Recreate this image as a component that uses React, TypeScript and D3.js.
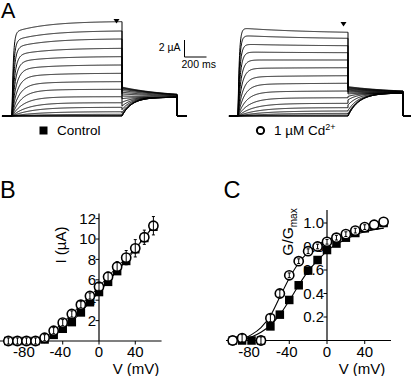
import React from 'react';
import * as d3 from 'd3';

const FONT = "'Liberation Sans', Arial, Helvetica, sans-serif";

// ---------- Panel A: current traces (one per voltage step, +60 ... -100 mV) ----------
const A_STEP_V = [60, 50, 40, 30, 20, 10, 0, -10, -20, -30, -40, -50, -60, -70, -80, -90, -100];
// current at end of the 1 s step (µA)
const A_CTRL_END = [11.1, 10.0, 9.06, 7.96, 6.98, 6.0, 5.02, 4.04, 3.14, 2.27, 1.56, 1.02, 0.5, 0.2, 0.05, 0, 0];
const A_CD_END = [9.85, 9.14, 8.27, 7.45, 6.59, 5.68, 4.74, 3.85, 2.94, 2.15, 1.49, 0.98, 0.59, 0.31, 0.12, 0, 0];
// tail current right after the step (µA)
const A_CTRL_TAIL0 = [3.4, 3.33, 3.26, 3.16, 3.0, 2.8, 2.6, 2.35, 2.04, 1.6, 1.16, 0.75, 0.4, 0.17, 0.03, 0, 0];
const A_CD_TAIL0 = [3.45, 3.38, 3.3, 3.22, 3.13, 3.03, 2.92, 2.8, 2.6, 2.3, 1.9, 1.3, 0.65, 0.25, 0.08, 0, 0];
// activation time constants (ms)
const A_CTRL_TAU = [12, 15, 19, 24, 30, 38, 48, 62, 80, 105, 140, 185, 240, 300, 350, 350, 350];
const A_CD_TAU = [12, 14, 17, 21, 27, 34, 44, 57, 75, 100, 135, 180, 230, 290, 350, 350, 350];
// slow component fraction (negative = slight inactivation)
const A_CTRL_SLOW = [0.12, 0.12, 0.12, 0.11, 0.1, 0.1, 0.1, 0.1, 0.08, 0.06, 0.05, 0.04, 0.03, 0, 0, 0, 0];
const A_CD_SLOW = [-0.07, -0.05, -0.03, -0.015, 0, 0.02, 0.04, 0.05, 0.06, 0.06, 0.06, 0.05, 0.04, 0.03, 0, 0, 0];

// ---------- Panel B: I-V ----------
const B_V = [-100, -90, -80, -70, -60, -50, -40, -30, -20, -10, 0, 10, 20, 30, 40, 50, 60];
const B_CTRL = [0, 0, 0, 0, 0.15, 0.6, 1.2, 1.85, 2.8, 3.8, 4.8, 5.8, 6.85, 7.85, 9.0, 10.1, 11.2];
const B_CD = [0, 0, 0, 0, 0.32, 1.01, 1.8, 2.65, 3.56, 4.41, 5.32, 6.3, 7.28, 8.17, 9.09, 10.17, 11.3];
const B_CD_ERR = [0.3, 0.3, 0.3, 0.3, 0.3, 0.3, 0.3, 0.3, 0.3, 0.3, 0.35, 0.45, 0.5, 0.7, 0.85, 0.7, 0.9];
const B_Y_TICKS = [2, 4, 6, 8, 10, 12];
const B_X_TICKS = [-80, -40, 0, 40];

// ---------- Panel C: G/Gmax ----------
const C_V = [-100, -90, -80, -70, -60, -50, -40, -30, -20, -10, 0, 10, 20, 30, 40, 50, 60];
const C_CTRL = [0, 0, 0, 0.0, 0.12, 0.22, 0.345, 0.47, 0.595, 0.685, 0.77, 0.825, 0.875, 0.915, 0.955, 0.98, 1.0];
const C_CD = [0.0, 0.02, NaN, 0.0, 0.19, 0.4, 0.555, 0.675, 0.76, 0.8, 0.84, 0.875, 0.905, 0.935, 0.965, 0.985, 1.01];
const C_CD_ERR = [0, 0.03, 0, 0.03, 0.03, 0.03, 0.02, 0.02, 0.02, 0.02, 0.02, 0.02, 0.02, 0.02, 0.02, 0, 0];
const C_FIT_CD_V = [-97, -90, -80, -70, -60, -50, -40, -30, -20, -10, 0, 10, 20, 30, 40, 50, 60];
const C_FIT_CD = [0, 0.012, 0.05, 0.11, 0.21, 0.37, 0.53, 0.66, 0.75, 0.81, 0.855, 0.885, 0.905, 0.92, 0.935, 0.945, 0.955];
const C_FIT_CTRL_V = [-90, -80, -70, -60, -50, -40, -30, -20, -10, 0, 10, 20, 30, 40, 50, 60];
const C_FIT_CTRL = [0, 0.03, 0.07, 0.13, 0.22, 0.34, 0.47, 0.59, 0.68, 0.76, 0.82, 0.86, 0.9, 0.925, 0.945, 0.955];
const C_Y_TICKS = [0.2, 0.4, 0.6, 0.8, 1.0];
const C_X_TICKS = [-80, -40, 0, 40];

type Pt = [number, number];

function tracePoints(end: number, tail0: number, tau: number, slow: number, tau2: number,
  tailInf: number, tailTauDecay: number, tailTauRise: number, tPre: number, tPost: number): Pt[] {
  const g = (t: number) => 1 - (1 - slow) * Math.exp(-t / tau) - slow * Math.exp(-t / tau2);
  const gEnd = g(1000);
  const pts: Pt[] = [[tPre, 0], [0, 0]];
  for (let t = 0; t <= 1000; t += 2) pts.push([t, end === 0 ? 0 : end * g(t) / gEnd]);
  const tt = tail0 > tailInf ? tailTauDecay : tailTauRise;
  for (let t = 0; t <= 500; t += 4) pts.push([1000 + t, tailInf + (tail0 - tailInf) * Math.exp(-t / tt)]);
  pts.push([1500, 0], [tPost, 0]);
  return pts;
}

function TracePanel({ x0, ends, tails, taus, slows, tau2, tailInf, tDec, tRise, tPre, tPost }:
  any) {
  const x = d3.scaleLinear().domain([0, 1000]).range([x0, x0 + 110]);
  const y = d3.scaleLinear().domain([0, 2]).range([116, 99]);
  const line = d3.line<Pt>().x(d => x(d[0])).y(d => y(d[1]));
  return (
    <g>
      {A_STEP_V.map((v, i) => (
        <path key={v} d={line(tracePoints(ends[i], tails[i], taus[i], slows[i], tau2, tailInf, tDec, tRise, tPre, tPost)) || ''}
          fill="none" stroke="#000" strokeWidth={1} />
      ))}
    </g>
  );
}

export default function App() {
  // Panel B scales
  const xB = d3.scaleLinear().domain([0, 60]).range([99, 153.4]);
  const yB = d3.scaleLinear().domain([0, 12]).range([341, 218.6]);
  // Panel C scales
  const xC = d3.scaleLinear().domain([0, 60]).range([327, 383.6]);
  const yC = d3.scaleLinear().domain([0, 1]).range([340.5, 223]);

  const ctrlLineB = d3.line<number>().x((_, i) => xB(B_V[i])).y(d => yB(d))(B_CTRL) || '';
  const cdLineB = d3.line<number>().x((_, i) => xB(B_V[i])).y(d => yB(d))(B_CD) || '';

  const fitCd = d3.line<number>().curve(d3.curveMonotoneX).x((_, i) => xC(C_FIT_CD_V[i])).y(d => yC(d))(C_FIT_CD) || '';
  const fitCtrl = d3.line<number>().curve(d3.curveMonotoneX).x((_, i) => xC(C_FIT_CTRL_V[i])).y(d => yC(d))(C_FIT_CTRL) || '';

  const sq = 8.5;
  const r = 4.6;

  return (
    <svg width={412} height={376} style={{ position: 'absolute', left: 0, top: 0 }} fontFamily={FONT}>
      <rect width={412} height={376} fill="#fff" />
      {/* ===== Panel A ===== */}
      <text x={1} y={17.5} fontSize={21.5}>A</text>
      <TracePanel x0={12} ends={A_CTRL_END} tails={A_CTRL_TAIL0} taus={A_CTRL_TAU} slows={A_CTRL_SLOW}
        tau2={300} tailInf={2.2} tDec={420} tRise={90} tPre={-91} tPost={1590} />
      <TracePanel x0={238} ends={A_CD_END} tails={A_CD_TAIL0} taus={A_CD_TAU} slows={A_CD_SLOW}
        tau2={700} tailInf={2.7} tDec={450} tRise={100} tPre={-82} tPost={1570} />
      {/* arrowheads */}
      <path d="M113.5,19 L119.5,19 L116.5,23.5 Z" fill="#000" />
      <path d="M340.5,22 L346.5,22 L343.5,26.5 Z" fill="#000" />
      {/* scale bar */}
      <path d="M184.5,40 L184.5,57 L206.5,57" fill="none" stroke="#000" strokeWidth={1} />
      <text x={180.5} y={50.5} fontSize={10.5} textAnchor="end">2 µA</text>
      <text x={181.5} y={68} fontSize={10.5}>200 ms</text>
      {/* legend */}
      <rect x={39.5} y={126.5} width={8} height={8} fill="#000" />
      <text x={57} y={134.5} fontSize={13.5}>Control</text>
      <circle cx={260.5} cy={130.5} r={3.6} fill="#fff" stroke="#000" strokeWidth={2} />
      <text x={274} y={134.5} fontSize={13.5}>1 µM Cd<tspan fontSize={9} dy={-5}>2+</tspan></text>

      {/* ===== Panel B ===== */}
      <text x={0} y={197.5} fontSize={23.5}>B</text>
      <line x1={0} x2={xB(69)} y1={yB(0)} y2={yB(0)} stroke="#000" strokeWidth={1.2} />
      <line x1={xB(0)} x2={xB(0)} y1={yB(0)} y2={yB(12.5)} stroke="#000" strokeWidth={1.2} />
      {B_Y_TICKS.map(t => (
        <g key={t}>
          <line x1={xB(0) - 3.5} x2={xB(0)} y1={yB(t)} y2={yB(t)} stroke="#000" strokeWidth={1} />
          <text x={xB(0) - 3} y={yB(t) + 5.2} fontSize={15} textAnchor="end">{t}</text>
        </g>
      ))}
      {B_X_TICKS.map(t => (
        <g key={t}>
          <line x1={xB(t)} x2={xB(t)} y1={yB(0)} y2={yB(0) + 3.5} stroke="#000" strokeWidth={1} />
          <text x={xB(t) - (t < 0 ? 2.5 : 0)} y={356.5} fontSize={15} textAnchor="middle">{t}</text>
        </g>
      ))}
      <text transform={`translate(66,245) rotate(-90)`} fontSize={15} textAnchor="middle">I (µA)</text>
      <text x={136} y={374} fontSize={15} textAnchor="middle">V (mV)</text>
      <path d={ctrlLineB} fill="none" stroke="#000" strokeWidth={1} />
      <path d={cdLineB} fill="none" stroke="#000" strokeWidth={1} />
      {B_V.map((v, i) => (
        <rect key={'bs' + v} x={xB(v) - sq / 2} y={yB(B_CTRL[i]) - sq / 2} width={sq} height={sq} fill="#000" />
      ))}
      {B_V.map((v, i) => (
        <circle key={'bc' + v} cx={xB(v)} cy={yB(B_CD[i])} r={r} fill="#fff" stroke="#000" strokeWidth={1.6} />
      ))}
      {B_V.map((v, i) => {
        const e = B_CD_ERR[i];
        const cx = xB(v);
        return (
          <g key={'be' + v} stroke="#000" strokeWidth={1}>
            <line x1={cx} x2={cx} y1={yB(B_CD[i] - e)} y2={yB(B_CD[i] + e)} />
            <line x1={cx - 1.5} x2={cx + 1.5} y1={yB(B_CD[i] - e)} y2={yB(B_CD[i] - e)} />
            <line x1={cx - 1.5} x2={cx + 1.5} y1={yB(B_CD[i] + e)} y2={yB(B_CD[i] + e)} />
          </g>
        );
      })}

      {/* ===== Panel C ===== */}
      <text x={223.5} y={197.5} fontSize={23.5}>C</text>
      <line x1={226} x2={391} y1={yC(0)} y2={yC(0)} stroke="#000" strokeWidth={1.2} />
      <line x1={xC(0)} x2={xC(0)} y1={yC(0)} y2={yC(1.11)} stroke="#000" strokeWidth={1.2} />
      {C_Y_TICKS.map(t => (
        <g key={t}>
          <line x1={xC(0) - 3.5} x2={xC(0)} y1={yC(t)} y2={yC(t)} stroke="#000" strokeWidth={1} />
          <text x={xC(0) - 3} y={yC(t) + 5.2} fontSize={15} textAnchor="end">{t.toFixed(1)}</text>
        </g>
      ))}
      {C_X_TICKS.map(t => (
        <g key={t}>
          <line x1={xC(t)} x2={xC(t)} y1={yC(0)} y2={yC(0) + 3.5} stroke="#000" strokeWidth={1} />
          <text x={xC(t) - (t < 0 ? 2.5 : 0)} y={356.5} fontSize={15} textAnchor="middle">{t}</text>
        </g>
      ))}
      <text transform={`translate(293,232) rotate(-90)`} fontSize={15.5} textAnchor="middle">
        G/G<tspan fontSize={10} dy={4}>max</tspan>
      </text>
      <text x={362} y={374} fontSize={15} textAnchor="middle">V (mV)</text>
      <path d={fitCd} fill="none" stroke="#000" strokeWidth={1.1} />
      <path d={fitCtrl} fill="none" stroke="#000" strokeWidth={1.1} />
      {C_V.map((v, i) => (
        <rect key={'cs' + v} x={xC(v) - sq / 2} y={yC(C_CTRL[i]) - sq / 2} width={sq} height={sq} fill="#000" />
      ))}
      {C_V.map((v, i) => isNaN(C_CD[i]) ? null : (
        <circle key={'cc' + v} cx={xC(v)} cy={yC(C_CD[i])} r={r} fill="#fff" stroke="#000" strokeWidth={1.6} />
      ))}
      {C_V.map((v, i) => {
        const e = C_CD_ERR[i];
        if (!e || isNaN(C_CD[i])) return null;
        const cx = xC(v);
        return (
          <g key={'ce' + v} stroke="#000" strokeWidth={1}>
            <line x1={cx} x2={cx} y1={yC(C_CD[i] - e)} y2={yC(C_CD[i] + e)} />
            <line x1={cx - 1.5} x2={cx + 1.5} y1={yC(C_CD[i] - e)} y2={yC(C_CD[i] - e)} />
            <line x1={cx - 1.5} x2={cx + 1.5} y1={yC(C_CD[i] + e)} y2={yC(C_CD[i] + e)} />
          </g>
        );
      })}
    </svg>
  );
}
